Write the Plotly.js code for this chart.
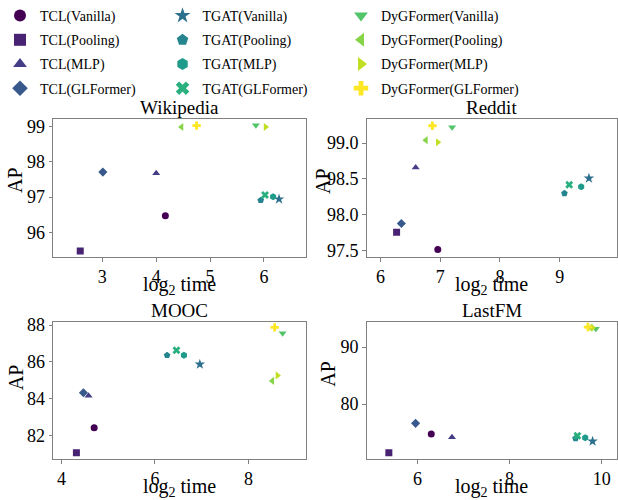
<!DOCTYPE html>
<html>
<head>
<meta charset="utf-8">
<script src="https://cdn.plot.ly/plotly-3.0.1.min.js"></script>
<style>html,body{margin:0;padding:0;background:#fff;}#chart{width:618px;height:500px;}</style>
</head>
<body>
<div id="chart"></div>
<script>
// Methods (order: TCL, TGAT, DyGFormer x Vanilla, Pooling, MLP, GLFormer)
const methods = [
  'TCL(Vanilla)', 'TCL(Pooling)', 'TCL(MLP)', 'TCL(GLFormer)',
  'TGAT(Vanilla)', 'TGAT(Pooling)', 'TGAT(MLP)', 'TGAT(GLFormer)',
  'DyGFormer(Vanilla)', 'DyGFormer(Pooling)', 'DyGFormer(MLP)', 'DyGFormer(GLFormer)'
];
const symbols = ['circle', 'square', 'triangle-up', 'diamond',
                 'star', 'pentagon', 'hexagon', 'x',
                 'triangle-down', 'triangle-left', 'triangle-right', 'cross'];
const colors = ['#440154', '#482374', '#433e85', '#38598c',
                '#2d708e', '#25858e', '#1e9b8a', '#2ab07f',
                '#52c569', '#86d549', '#c2df23', '#fde725'];

const datasets = ['Wikipedia', 'Reddit', 'MOOC', 'LastFM'];

const wikiTime = [4.17, 2.59, 4.00, 3.01, 6.28, 5.94, 6.17, 6.02, 5.85, 4.47, 6.03, 4.75];
const wikiAP   = [96.47, 95.47, 97.68, 97.71, 96.94, 96.91, 97.01, 97.06, 99.04, 98.99, 98.99, 99.03];

const redditTime = [6.96, 6.27, 6.59, 6.35, 9.49, 9.08, 9.36, 9.16, 7.20, 6.76, 6.96, 6.87];
const redditAP   = [97.52, 97.76, 98.66, 97.88, 98.51, 98.30, 98.39, 98.42, 99.22, 99.04, 99.01, 99.24];

const moocTime = [4.70, 4.32, 4.58, 4.47, 6.96, 6.26, 6.62, 6.46, 8.73, 8.51, 8.62, 8.56];
const moocAP   = [82.43, 81.08, 84.17, 84.33, 85.87, 86.36, 86.36, 86.63, 87.55, 84.97, 85.27, 87.87];

const lastfmTime = [6.30, 5.38, 6.75, 5.96, 9.80, 9.43, 9.64, 9.47, 9.87, 9.76, 9.80, 9.70];
const lastfmAP   = [74.74, 71.46, 74.16, 76.61, 73.46, 73.98, 74.09, 74.44, 93.2, 93.4, 93.4, 93.5];

const times = [wikiTime, redditTime, moocTime, lastfmTime];
const aps = [wikiAP, redditAP, moocAP, lastfmAP];

const FONT = '"Liberation Serif", "Times New Roman", Times, serif';
const legendIds = ['legend', 'legend2', 'legend3'];

const traces = [];
for (let d = 0; d < 4; d++) {
  const ax = d === 0 ? '' : String(d + 1);
  for (let m = 0; m < methods.length; m++) {
    traces.push({
      type: 'scatter', mode: 'markers',
      x: [times[d][m]], y: [aps[d][m]],
      xaxis: 'x' + ax, yaxis: 'y' + ax,
      name: methods[m], legendgroup: methods[m], showlegend: d === 0,
      legend: legendIds[Math.floor(m / 4)],
      marker: {symbol: symbols[m], color: colors[m], size: symbols[m] === 'star' ? 8 : 7, line: {width: 0}}
    });
  }
}

function axisBase(extra) {
  return Object.assign({
    showgrid: false, zeroline: false,
    showline: true, mirror: true, linecolor: '#808080', linewidth: 1,
    ticks: 'outside', ticklen: 3.5, tickcolor: '#808080', tickwidth: 1,
    tickfont: {family: FONT, size: 18, color: '#000'}
  }, extra);
}

function legendBase(x) {
  return {
    orientation: 'v', x: x, y: 1, xanchor: 'left', yanchor: 'top',
    font: {family: FONT, size: 14, color: '#000'},
    itemsizing: 'constant', traceorder: 'grouped', tracegroupgap: 3,
    bgcolor: 'rgba(0,0,0,0)', borderwidth: 0
  };
}

const xL = [0.0858, 0.4951], xR = [0.5934, 0.9984];
const yT = [0.4854, 0.7614], yB = [0.0814, 0.3566];

const layout = {
  width: 618, height: 500,
  margin: {l: 0, r: 0, t: 0, b: 0},
  paper_bgcolor: '#fff', plot_bgcolor: '#fff',
  font: {family: FONT, color: '#000'},
  showlegend: true,
  legend: legendBase(0),
  legend2: legendBase(0.2630),
  legend3: legendBase(0.5518),
  xaxis:  axisBase({domain: xL, anchor: 'y',  range: [2.085, 6.78], dtick: 1, tick0: 0}),
  yaxis:  axisBase({domain: yT, anchor: 'x',  range: [95.29, 99.21], dtick: 1, tick0: 0}),
  xaxis2: axisBase({domain: xR, anchor: 'y2', range: [5.77, 9.96], dtick: 1, tick0: 0}),
  yaxis2: axisBase({domain: yT, anchor: 'x2', range: [97.41, 99.33], dtick: 0.5, tick0: 0, tickformat: '.1f'}),
  xaxis3: axisBase({domain: xL, anchor: 'y3', range: [3.82, 9.23], dtick: 2, tick0: 0}),
  yaxis3: axisBase({domain: yB, anchor: 'x3', range: [80.72, 88.18], dtick: 2, tick0: 0}),
  xaxis4: axisBase({domain: xR, anchor: 'y4', range: [4.90, 10.33], dtick: 2, tick0: 0}),
  yaxis4: axisBase({domain: yB, anchor: 'x4', range: [70.3, 94.44], dtick: 10, tick0: 0}),
  annotations: []
};

const cx = [(xL[0] + xL[1]) / 2, (xR[0] + xR[1]) / 2, (xL[0] + xL[1]) / 2, (xR[0] + xR[1]) / 2];
const titleY = [0.784, 0.784, 0.38, 0.38];
const xTitleY = [0.43, 0.43, 0.026, 0.026];
const apX = [0.0243, 0.5227, 0.0254, 0.5304];
const apY = [0.64, 0.638, 0.245, 0.252];

for (let d = 0; d < 4; d++) {
  layout.annotations.push({
    xref: 'paper', yref: 'paper', x: cx[d], y: titleY[d], xanchor: 'center', yanchor: 'middle',
    text: datasets[d], showarrow: false, font: {family: FONT, size: 19, color: '#000'}
  });
  layout.annotations.push({
    xref: 'paper', yref: 'paper', x: cx[d], y: xTitleY[d], xanchor: 'center', yanchor: 'middle',
    text: 'log<sub>2</sub> time', showarrow: false, font: {family: FONT, size: 20, color: '#000'}
  });
  layout.annotations.push({
    xref: 'paper', yref: 'paper', x: apX[d], y: apY[d], xanchor: 'center', yanchor: 'middle',
    text: 'AP', textangle: -90, showarrow: false, font: {family: FONT, size: 20, color: '#000'}
  });
}

Plotly.newPlot('chart', traces, layout, {displayModeBar: false, staticPlot: true});
</script>
</body>
</html>
